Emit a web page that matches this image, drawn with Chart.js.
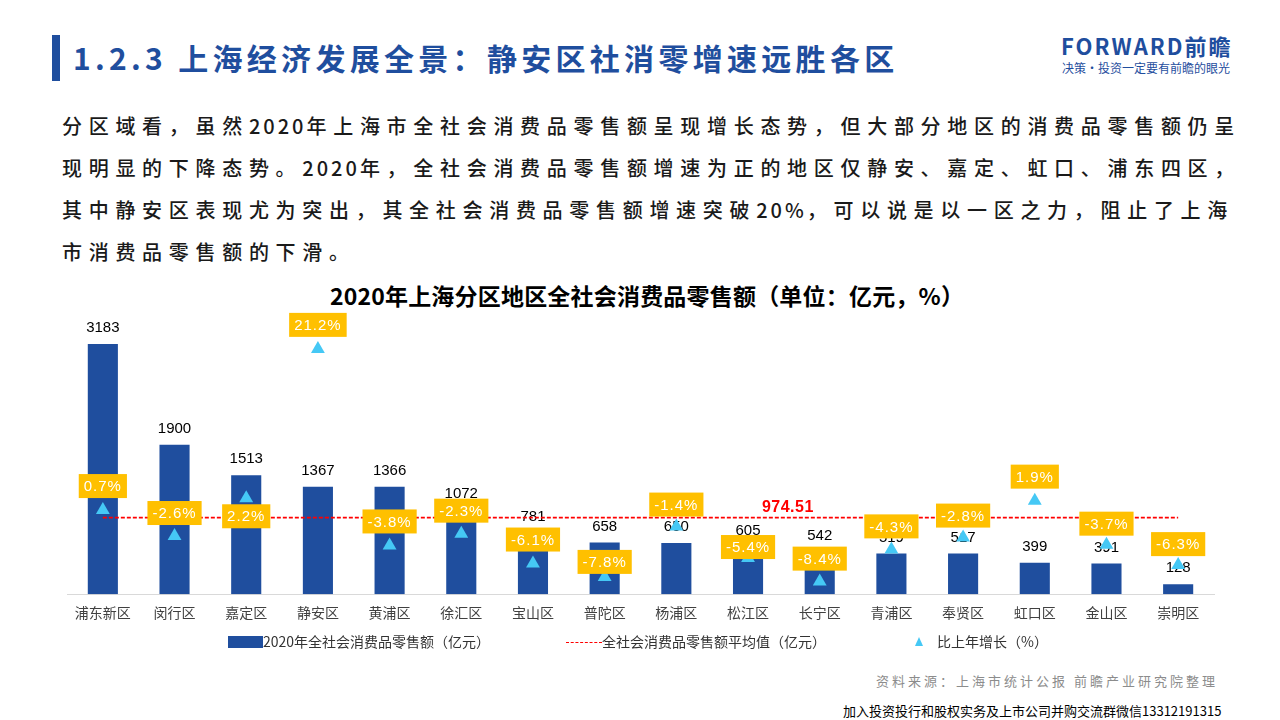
<!DOCTYPE html>
<html lang="zh-CN">
<head>
<meta charset="UTF-8">
<script src="https://cdn.jsdelivr.net/npm/chart.js"></script>
<title>上海分区社消零</title>
<style>
    body { margin: 0; width: 1280px; height: 720px; background: #fff; position: relative; overflow: hidden;
           font-family: "Noto Sans CJK SC", "Noto Sans", sans-serif; }
    .bar-mark { position: absolute; left: 52px; top: 35px; width: 8px; height: 46px; background: #1F4E9E; }
    .title { position: absolute; left: 73px; top: 36px; font-size: 30px; font-weight: bold; color: #1F4E9E;
             letter-spacing: 4.3px; line-height: 42px; white-space: nowrap; }
    .logo { position: absolute; left: 1061px; top: 31px; font-size: 22px; font-weight: bold; color: #1F4E9E;
            letter-spacing: 2px; line-height: 28px; white-space: nowrap; }
    .slogan { position: absolute; left: 1062px; top: 60px; font-size: 12px; color: #1F4E9E; line-height: 16px; white-space: nowrap; }
    .para { position: absolute; left: 62px; top: 105px; font-size: 20px; color: #1a1a1a; letter-spacing: 6.7px;
            line-height: 42px; white-space: nowrap; font-weight: 500; }
    .para .n { letter-spacing: 3px; }
    .ctitle { position: absolute; left: 0; width: 1266px; padding-left: 14px; top: 279px; text-align: center; font-size: 23px;
              font-weight: bold; color: #000; line-height: 32px; letter-spacing: 0.2px; }
    #wrap { position: absolute; left: 0; top: 300px; width: 1280px; height: 340px; }
    .legend { position: absolute; top: 632px; font-size: 14px; color: #333; line-height: 18px; white-space: nowrap; }
    .source { position: absolute; left: 876px; top: 671px; font-size: 13px; color: #8c8c8c; letter-spacing: 3px; white-space: nowrap; }
    .foot { position: absolute; left: 843px; top: 701px; font-size: 13px; color: #000; white-space: nowrap; }
</style>
</head>
<body>
    <div class="bar-mark"></div>
    <div class="title">1.2.3 上海经济发展全景：静安区社消零增速远胜各区</div>
    <div class="logo">FORWARD前瞻</div>
    <div class="slogan">决策·投资一定要有前瞻的眼光</div>

    <div class="para">
        <div>分区域看，虽然<span class="n">2020</span>年上海市全社会消费品零售额呈现增长态势，但大部分地区的消费品零售额仍呈</div>
        <div>现明显的下降态势。<span class="n">2020</span>年，全社会消费品零售额增速为正的地区仅静安、嘉定、虹口、浦东四区，</div>
        <div>其中静安区表现尤为突出，其全社会消费品零售额增速突破<span class="n">20%</span>，可以说是以一区之力，阻止了上海</div>
        <div>市消费品零售额的下滑。</div>
    </div>

    <div class="ctitle">2020年上海分区地区全社会消费品零售额（单位：亿元，%）</div>

    <div id="wrap"><canvas id="myChart"></canvas></div>

    <div class="legend" style="left:228px;"><span style="display:inline-block;width:35px;height:12px;background:#1F4E9E;vertical-align:-1px;"></span>2020年全社会消费品零售额（亿元）</div>
    <div class="legend" style="left:566px;"><span style="display:inline-block;width:36px;border-top:1.5px dashed #FF0000;vertical-align:4px;"></span>全社会消费品零售额平均值（亿元）</div>
    <div class="legend" style="left:915px;"><span style="display:inline-block;width:0;height:0;border-left:4px solid transparent;border-right:4px solid transparent;border-bottom:9px solid #45C8F5;margin-right:14px;vertical-align:1px;"></span>比上年增长（%）</div>

    <div class="source">资料来源：上海市统计公报 前瞻产业研究院整理</div>
    <div class="foot">加入投资投行和股权实务及上市公司并购交流群微信13312191315</div>

<script>
    // 数据
    const districts = ['浦东新区', '闵行区', '嘉定区', '静安区', '黄浦区', '徐汇区', '宝山区', '普陀区',
                       '杨浦区', '松江区', '长宁区', '青浦区', '奉贤区', '虹口区', '金山区', '崇明区'];
    const sales = [3183, 1900, 1513, 1367, 1366, 1072, 781, 658, 650, 605, 542, 519, 517, 399, 391, 128];
    const growth = [0.7, -2.6, 2.2, 21.2, -3.8, -2.3, -6.1, -7.8, -1.4, -5.4, -8.4, -4.3, -2.8, 1.9, -3.7, -6.3];
    const avgValue = 974.51;

    // 增速标签相对三角形的上移距离（像素，负值为下方）
    const labelShift = [24, 23, -18, 24, 24, 23, 24, 15, 22, 11, 23, 23, 22, 24, 21, 21];

    const blue = '#1F4E9E';
    const cyan = '#45C8F5';
    const orange = '#FFC000';

    const labelPlugin = {
        id: 'labels',
        afterDatasetDraw(chart, args) {
            if (args.index !== 0) return;
            const ctx = chart.ctx;
            ctx.save();
            ctx.font = '15px "Liberation Sans", Arial, sans-serif';
            ctx.fillStyle = '#000';
            ctx.textAlign = 'center';
            ctx.textBaseline = 'middle';
            args.meta.data.forEach(function (bar, i) {
                ctx.fillText(String(sales[i]), bar.x, bar.y - 16);
            });
            ctx.restore();
        },
        afterDatasetsDraw(chart) {
            const ctx = chart.ctx;
            const pts = chart.getDatasetMeta(2).data;
            ctx.save();
            ctx.font = '15px "Liberation Sans", Arial, sans-serif';
            ctx.letterSpacing = '1px';
            ctx.textAlign = 'center';
            ctx.textBaseline = 'middle';
            pts.forEach(function (p, i) {
                const txt = growth[i].toFixed(1) + '%';
                const w = ctx.measureText(txt).width + 10;
                const h = 24;
                const cy = p.y - labelShift[i];
                ctx.fillStyle = orange;
                ctx.fillRect(p.x - w / 2, cy - h / 2, w, h);
                ctx.fillStyle = '#fff';
                ctx.fillText(txt, p.x, cy + 1);
            });
            // 平均值标注
            const xs = chart.scales.x;
            const ax = (xs.getPixelForValue(9) + xs.getPixelForValue(10)) / 2 + 4;
            const ay = chart.scales.y.getPixelForValue(avgValue) - 10;
            ctx.letterSpacing = '0.5px';
            ctx.font = 'bold 16px "Liberation Sans", Arial, sans-serif';
            ctx.fillStyle = '#FF0000';
            ctx.fillText(String(avgValue), ax, ay);
            ctx.restore();
        }
    };

    const config = {
        data: {
            labels: districts,
            datasets: [
                {
                    type: 'bar',
                    label: '2020年全社会消费品零售额（亿元）',
                    data: sales,
                    backgroundColor: blue,
                    yAxisID: 'y',
                    barPercentage: 0.42,
                    categoryPercentage: 1,
                    order: 3
                },
                {
                    type: 'line',
                    label: '全社会消费品零售额平均值（亿元）',
                    data: new Array(districts.length).fill(avgValue),
                    borderColor: '#FF0000',
                    borderWidth: 1.6,
                    borderDash: [4, 2],
                    pointRadius: 0,
                    yAxisID: 'y',
                    order: 2
                },
                {
                    type: 'line',
                    label: '比上年增长（%）',
                    data: growth,
                    showLine: false,
                    pointStyle: 'triangle',
                    pointRadius: 8,
                    backgroundColor: cyan,
                    borderColor: cyan,
                    borderWidth: 0,
                    yAxisID: 'y2',
                    order: 1
                }
            ]
        },
        options: {
            responsive: true,
            maintainAspectRatio: false,
            animation: false,
            layout: { padding: { left: 67, right: 66, top: 19, bottom: 9 } },
            scales: {
                x: {
                    grid: { display: false, drawTicks: false },
                    border: { display: true, color: '#D9D9D9', width: 1 },
                    ticks: {
                        color: '#404040',
                        padding: 10,
                        maxRotation: 0,
                        autoSkip: false,
                        font: { size: 14, family: '"Noto Sans CJK SC", sans-serif' }
                    }
                },
                y: { display: false, min: 0, max: 3500 },
                y2: { display: false, min: -10, max: 25, position: 'right' }
            },
            plugins: {
                legend: { display: false },
                tooltip: { enabled: false }
            }
        },
        plugins: [labelPlugin]
    };

    let ctx = document.getElementById('myChart').getContext('2d');
    let myChart = new Chart(ctx, config);
</script>
</body>
</html>
